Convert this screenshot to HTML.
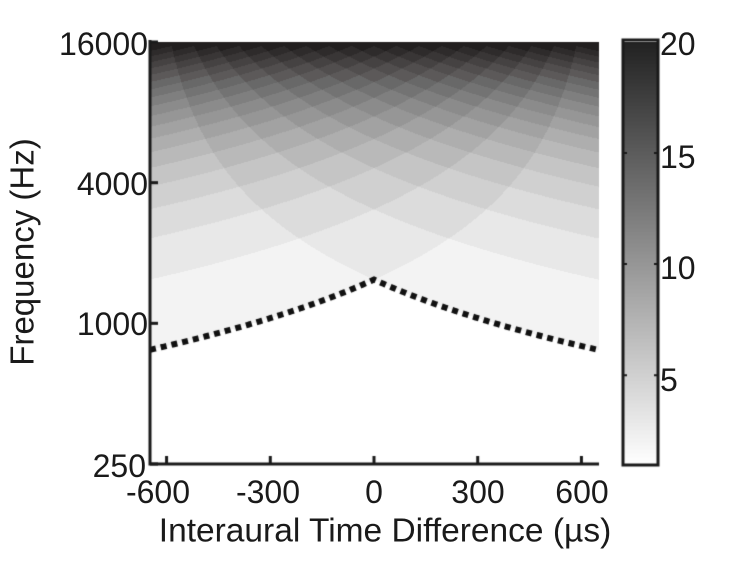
<!DOCTYPE html>
<html><head><meta charset="utf-8"><style>
body{margin:0;background:#fff;width:750px;height:573px;overflow:hidden;position:relative;font-family:"Liberation Sans",Arial,sans-serif;color:#1a1a1a}
canvas{position:absolute;left:0;top:0}
.t{position:absolute;font-size:32px;line-height:1;white-space:nowrap}
.yl{transform:translate(-100%,-50%)}
.xl{transform:translate(-50%,-50%)}
.cl{transform:translate(0,-50%)}
</style></head><body>
<canvas id="c" width="750" height="573"></canvas>
<div class="t yl" style="left:148px;top:44px">16000</div>
<div class="t yl" style="left:148px;top:184px">4000</div>
<div class="t yl" style="left:148px;top:324px">1000</div>
<div class="t yl" style="left:146px;top:466px">250</div>
<div class="t xl" style="left:158px;top:492px">-600</div>
<div class="t xl" style="left:268px;top:492px">-300</div>
<div class="t xl" style="left:374px;top:492px">0</div>
<div class="t xl" style="left:478px;top:492px">300</div>
<div class="t xl" style="left:582px;top:492px">600</div>
<div class="t xl" style="left:385px;top:531px;font-size:33.5px">Interaural Time Difference (µs)</div>
<div class="t" style="left:22px;top:252px;font-size:33px;transform:translate(-50%,-50%) rotate(-90deg)">Frequency (Hz)</div>
<div class="t cl" style="left:660px;top:44px">20</div>
<div class="t cl" style="left:660px;top:157px">15</div>
<div class="t cl" style="left:660px;top:268px">10</div>
<div class="t cl" style="left:660px;top:380px">5</div>
<script>
const c=document.getElementById('c'),g=c.getContext('2d');
const L=150,R=599,T=42,B=464;
const xOf=t=>374+t*0.3457;
const yOf=f=>B-(Math.log2(f/250))*(B-T)/6;
function col(v){const s=Math.round(255-(v-1)*(255-34)/19);return [s,s-(v>14?3:0),s-(v>14?3:0)];}
const img=g.createImageData(R-L,B-T);
for(let py=0;py<B-T;py++){
  const f=250*Math.pow(2,(B-(T+py+0.5))*6/(B-T));
  for(let px=0;px<R-L;px++){
    const t=(L+px+0.5-374)/0.3457/1e6;
    const a=(-650e-6-t)*f,b=(650e-6-t)*f;
    let v=Math.floor(b)-Math.ceil(a)+1; if(v<1)v=1; if(v>20)v=20;
    const cc=col(v);const i=(py*(R-L)+px)*4;
    img.data[i]=cc[0];img.data[i+1]=cc[1];img.data[i+2]=cc[2];img.data[i+3]=255;
  }
}
g.putImageData(img,L,T);
g.strokeStyle='#111';g.lineWidth=6;g.setLineDash([6,5]);
g.beginPath();
for(let x=L;x<=R;x++){const t=Math.abs((x-374)/0.3457);const f=1e6/(650+t);const y=yOf(f);x==L?g.moveTo(x,y):g.lineTo(x,y);}
g.stroke();g.setLineDash([]);
g.strokeStyle='#1a1a1a';g.lineWidth=3;
g.beginPath();g.moveTo(L,T-2);g.lineTo(L,B);g.lineTo(R,B);g.stroke();
[16000,4000,1000,250].forEach(f=>{const y=yOf(f);g.beginPath();g.moveTo(L,y);g.lineTo(L+8,y);g.stroke();});
[-600,-300,0,300,600].forEach(t=>{const x=xOf(t);g.beginPath();g.moveTo(x,B);g.lineTo(x,B-8);g.stroke();});
const cx=623,cw=35;
for(let y=T;y<B;y++){const v=1+(B-y)/(B-T)*19;const s=Math.round(255-(v-1)*(255-34)/19);g.fillStyle=`rgb(${s},${s},${s})`;g.fillRect(cx,y,cw,1);}
g.lineWidth=3;g.strokeRect(cx,T-2,cw,B-T+3);
[5,10,15].forEach(v=>{const y=B-(v-1)/19*(B-T);g.lineWidth=2;g.beginPath();g.moveTo(cx,y);g.lineTo(cx+4,y);g.moveTo(cx+cw,y);g.lineTo(cx+cw-4,y);g.stroke();});
</script>
</body></html>
